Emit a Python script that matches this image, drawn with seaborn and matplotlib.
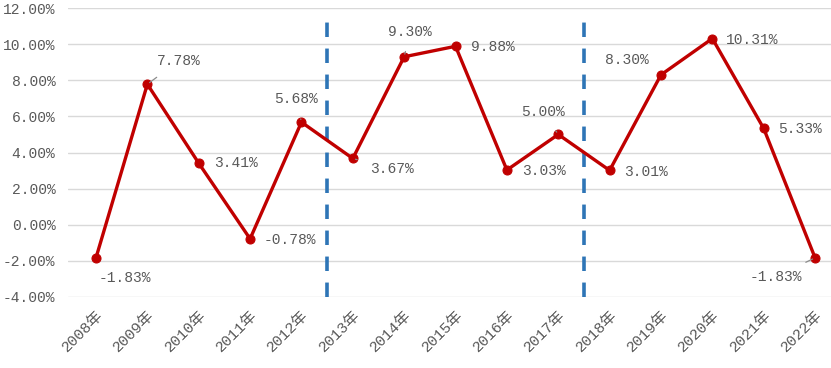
import pandas as pd
import seaborn as sns
import matplotlib.pyplot as plt
from matplotlib.ticker import FuncFormatter

years = ['2008年', '2009年', '2010年', '2011年', '2012年', '2013年', '2014年', '2015年',
         '2016年', '2017年', '2018年', '2019年', '2020年', '2021年', '2022年']
growth = [-1.83, 7.78, 3.41, -0.78, 5.68, 3.67, 9.30, 9.88, 3.03, 5.00, 3.01, 8.30, 10.31, 5.33, -1.83]
labels = ['-1.83%', '7.78%', '3.41%', '-0.78%', '5.68%', '3.67%', '9.30%', '9.88%',
          '3.03%', '5.00%', '3.01%', '8.30%', '10.31%', '5.33%', '-1.83%']
# label offsets in pixels (dx, dy), alignment, leader line
label_pos = [(29, -20, 'center', False), (31, 23, 'center', True), (15, 0, 'left', False),
             (14, -1, 'left', False), (-5, 23, 'center', True), (17, -11, 'left', True),
             (6, 25, 'center', True), (15, -1, 'left', False), (15, -1, 'left', False),
             (-15, 22, 'center', True), (14, -2, 'left', False), (-34, 15, 'center', False),
             (14, -1, 'left', False), (14, -1, 'left', False), (-13, -19, 'right', True)]
divider_pos = [4.5, 9.5]

df = pd.DataFrame({'year': years, 'growth': growth})

sns.set_style('white')
plt.rcParams['font.family'] = ['Liberation Mono', 'Noto Sans CJK SC', 'DejaVu Sans']
plt.rcParams['axes.unicode_minus'] = False

fig = plt.figure(figsize=(8.31, 3.68), dpi=100)
ax = fig.add_axes([68 / 831, 1 - 297 / 368, 1 - 68 / 831, (297 - 8) / 368])

for y in range(-4, 13, 2):
    ax.axhline(y, color='#D9D9D9', lw=1, zorder=0)

for xp in divider_pos:
    ax.plot([xp, xp], [-4, 11.3], color='#2E75B6', lw=2.6, dashes=(4, 3.2), zorder=1)

sns.lineplot(data=df, x='year', y='growth', color='#C00000', lw=2.4, marker='o',
             markersize=6.5, markeredgecolor='#C00000', sort=False, ax=ax, zorder=3)

for i, (v, t, (dx, dy, ha, lead)) in enumerate(zip(growth, labels, label_pos)):
    ax.annotate(t, xy=(i, v), xytext=(dx, dy), textcoords='offset pixels',
                ha=ha, va='center', fontsize=10.5, color='#595959',
                arrowprops=dict(arrowstyle='-', color='#8C8C8C', lw=0.9,
                                shrinkA=7, shrinkB=2) if lead else None)

ax.set_xlim(-0.545, 14.31)
ax.set_ylim(-4, 12)
ax.set_yticks(range(-4, 13, 2))
ax.yaxis.set_major_formatter(FuncFormatter(lambda v, p: f'{v:.2f}%'))
ax.set_xlabel('')
ax.set_ylabel('')
ax.tick_params(axis='y', length=0, labelsize=10.5, labelcolor='#595959', pad=9)
ax.tick_params(axis='x', length=0, labelsize=11, labelcolor='#595959', pad=8)
plt.setp(ax.get_xticklabels(), rotation=45, ha='right', rotation_mode='anchor')
sns.despine(ax=ax, left=True, bottom=True, top=True, right=True)

fig.savefig('out.png', dpi=100)
